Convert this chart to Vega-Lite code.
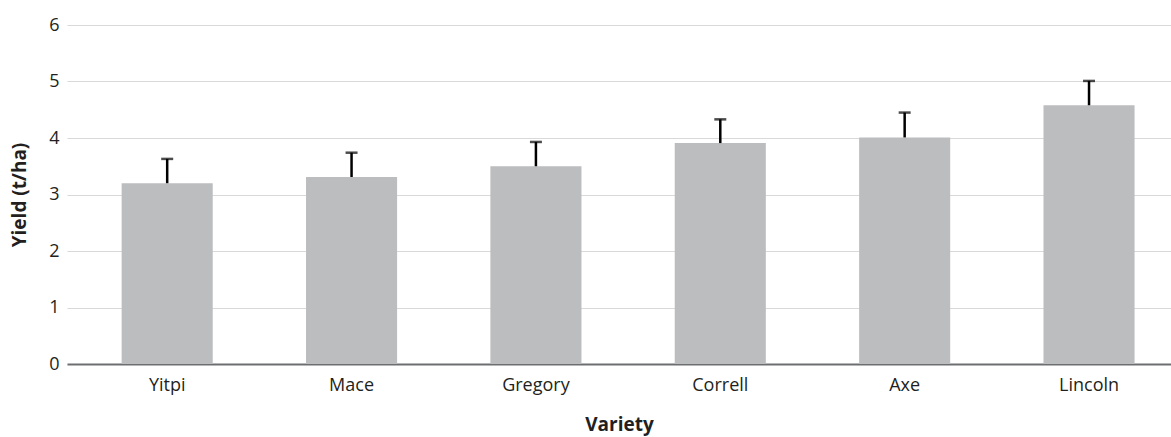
{
  "$schema": "https://vega.github.io/schema/vega-lite/v6.json",
  "autosize": "none",
  "width": 1104,
  "height": 339,
  "padding": {"left": 67, "top": 25, "right": 0, "bottom": 73},
  "background": "white",
  "config": {
    "view": {"stroke": null},
    "font": "Open Sans",
    "axis": {"labelFont": "Open Sans", "titleFont": "Open Sans", "labelColor": "#231F20", "titleColor": "#231F20"}
  },
  "data": {
    "values": [
      {"variety": "Yitpi", "yield": 3.20, "upper": 3.63},
      {"variety": "Mace", "yield": 3.31, "upper": 3.74},
      {"variety": "Gregory", "yield": 3.50, "upper": 3.93},
      {"variety": "Correll", "yield": 3.91, "upper": 4.33},
      {"variety": "Axe", "yield": 4.01, "upper": 4.45},
      {"variety": "Lincoln", "yield": 4.58, "upper": 5.01}
    ]
  },
  "encoding": {
    "x": {
      "field": "variety",
      "type": "nominal",
      "sort": null,
      "scale": {"paddingInner": 0.506, "paddingOuter": 0.247, "align": 0.6},
      "axis": {
        "title": "Variety",
        "titleFontSize": 19,
        "titleFontWeight": "bold",
        "titlePadding": 21,
        "labelFontSize": 18,
        "labelAngle": 0,
        "labelPadding": 12,
        "ticks": false,
        "domainColor": "#6D6E70",
        "domainWidth": 2
      }
    }
  },
  "layer": [
    {
      "mark": {"type": "bar", "color": "#BCBDBF"},
      "encoding": {
        "y": {
          "field": "yield",
          "type": "quantitative",
          "scale": {"domain": [0, 6], "nice": false},
          "axis": {
            "title": "Yield (t/ha)",
            "titleFontSize": 19,
            "titleFontWeight": "bold",
            "titlePadding": 19,
            "labelFontSize": 18,
            "labelPadding": 8,
            "format": "d",
            "values": [0, 1, 2, 3, 4, 5, 6],
            "ticks": false,
            "domain": false,
            "grid": true,
            "gridColor": "#D9D9D9",
            "gridWidth": 1
          }
        }
      }
    },
    {
      "mark": {"type": "rule", "color": "#000000", "strokeWidth": 2.5},
      "encoding": {
        "y": {"field": "yield", "type": "quantitative"},
        "y2": {"field": "upper"}
      }
    },
    {
      "mark": {"type": "tick", "color": "#000000", "thickness": 2.5, "size": 12, "orient": "horizontal"},
      "encoding": {
        "y": {"field": "upper", "type": "quantitative"}
      }
    }
  ]
}
